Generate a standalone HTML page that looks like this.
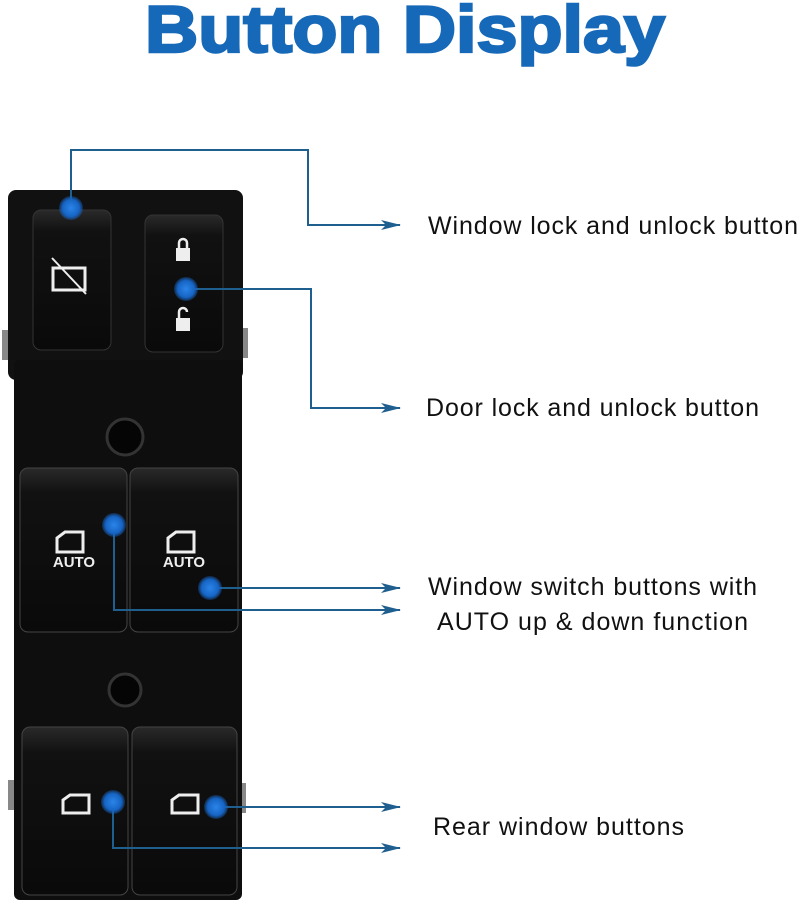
<!DOCTYPE html>
<html><head><style>
html,body{margin:0;padding:0;background:#fff;width:800px;height:906px;overflow:hidden}
</style></head><body>
<svg width="800" height="906" viewBox="0 0 800 906" xmlns="http://www.w3.org/2000/svg" font-family="Liberation Sans, sans-serif">
<defs>
<marker id="a" markerWidth="20" markerHeight="10" refX="19" refY="5" orient="auto" markerUnits="userSpaceOnUse"><path d="M0,0 L20,5 L0,10 L5,5 z" fill="#1f5f8f"/></marker>
<radialGradient id="g"><stop offset="0" stop-color="#2a85e8"/><stop offset="0.7" stop-color="#1664c4"/><stop offset="1" stop-color="#1664c4" stop-opacity="0.3"/></radialGradient>
<linearGradient id="b" x1="0" y1="0" x2="0" y2="1"><stop offset="0" stop-color="#2a2a2a"/><stop offset="0.15" stop-color="#111"/><stop offset="1" stop-color="#0a0a0a"/></linearGradient>
</defs>
<text x="145" y="52" textLength="520" lengthAdjust="spacingAndGlyphs" font-size="66" font-weight="bold" fill="#1668b8" stroke="#1668b8" stroke-width="2.5">Button Display</text>
<!-- body -->
<rect x="2" y="330" width="12" height="30" fill="#888"/>
<rect x="238" y="328" width="10" height="30" fill="#888"/>
<rect x="8" y="780" width="12" height="30" fill="#888"/>
<rect x="236" y="783" width="10" height="30" fill="#888"/>
<rect x="8" y="190" width="235" height="190" rx="8" fill="#111"/>
<rect x="14" y="360" width="228" height="540" rx="6" fill="#0e0e0e"/>
<rect x="33" y="210" width="78" height="140" rx="8" fill="url(#b)" stroke="#333"/>
<rect x="145" y="215" width="78" height="137" rx="8" fill="url(#b)" stroke="#333"/>
<circle cx="125" cy="437" r="18" fill="#050505" stroke="#333" stroke-width="3"/>
<circle cx="125" cy="690" r="16" fill="#050505" stroke="#333" stroke-width="3"/>
<rect x="20" y="468" width="107" height="164" rx="8" fill="url(#b)" stroke="#444"/>
<rect x="130" y="468" width="108" height="164" rx="8" fill="url(#b)" stroke="#444"/>
<rect x="22" y="727" width="106" height="168" rx="8" fill="url(#b)" stroke="#444"/>
<rect x="132" y="727" width="105" height="168" rx="8" fill="url(#b)" stroke="#444"/>
<!-- icons -->
<rect x="53" y="268" width="32" height="22" fill="none" stroke="#eee" stroke-width="3"/>
<line x1="52" y1="258" x2="86" y2="294" stroke="#eee" stroke-width="2"/>
<rect x="176" y="248" width="14" height="13" fill="#eee"/><path d="M179,248 v-5 a4,4 0 0 1 8,0 v5" stroke="#eee" stroke-width="2.5" fill="none"/>
<rect x="176" y="318" width="14" height="13" fill="#eee"/><path d="M179,318 v-6 a4,4 0 0 1 8,0" stroke="#eee" stroke-width="2.5" fill="none"/>
<g fill="none" stroke="#eee" stroke-width="3">
<path d="M57,552 v-14 l8,-6 h18 v20 z"/><path d="M168,552 v-14 l8,-6 h18 v20 z"/>
<path d="M63,813 v-13 l7,-5 h19 v18 z"/><path d="M172,813 v-13 l7,-5 h19 v18 z"/>
</g>
<text x="74" y="567" text-anchor="middle" font-size="15" font-weight="bold" fill="#eee">AUTO</text>
<text x="184" y="567" text-anchor="middle" font-size="15" font-weight="bold" fill="#eee">AUTO</text>
<!-- connectors -->
<g fill="none" stroke="#1f5f8f" stroke-width="2">
<polyline points="71,208 71,150 308,150 308,225 400,225" marker-end="url(#a)"/>
<polyline points="186,289 311,289 311,408 400,408" marker-end="url(#a)"/>
<polyline points="210,588 400,588" marker-end="url(#a)"/>
<polyline points="114,525 114,610 400,610" marker-end="url(#a)"/>
<polyline points="216,807 400,807" marker-end="url(#a)"/>
<polyline points="113,802 113,848 400,848" marker-end="url(#a)"/>
</g>
<g fill="url(#g)">
<circle cx="71" cy="208" r="12"/><circle cx="186" cy="289" r="12"/>
<circle cx="114" cy="525" r="12"/><circle cx="210" cy="588" r="12"/>
<circle cx="113" cy="802" r="12"/><circle cx="216" cy="807" r="12"/>
</g>
<g font-size="25" fill="#111">
<text x="428" y="234" textLength="370">Window lock and unlock button</text>
<text x="426" y="416" textLength="333">Door lock and unlock button</text>
<text x="428" y="595" textLength="329">Window switch buttons with</text>
<text x="437" y="630" textLength="311">AUTO up &amp; down function</text>
<text x="433" y="835" textLength="251">Rear window buttons</text>
</g>
</svg>
</body></html>
